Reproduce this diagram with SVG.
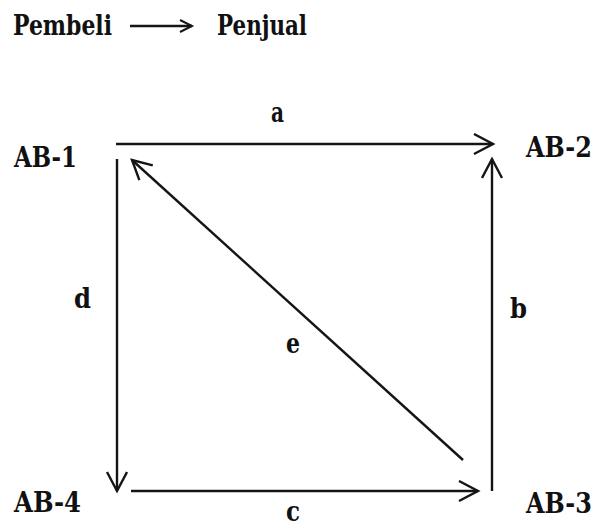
<svg xmlns="http://www.w3.org/2000/svg" width="595" height="527" viewBox="0 0 595 527">
<defs>
<style>
text{font-family:'DejaVu Serif','Liberation Serif',serif;font-size:27.5px;fill:#111;font-weight:bold}
.ln{stroke:#151515;stroke-width:2.4;fill:none}
</style>
<marker id="ah" markerUnits="userSpaceOnUse" markerWidth="26" markerHeight="26" refX="20" refY="11" orient="auto" viewBox="0 0 26 26">
<path d="M1,1 L20,11 L1,21" fill="none" stroke="#151515" stroke-width="2.4"/>
</marker>
<marker id="ahs" markerUnits="userSpaceOnUse" markerWidth="16" markerHeight="16" refX="13" refY="7" orient="auto" viewBox="0 0 16 16">
<path d="M1,1 L13,7 L1,13" fill="none" stroke="#151515" stroke-width="2"/>
</marker>
</defs>
<rect width="595" height="527" fill="#fff"/>
<g id="legend">
<text x="13" y="35" textLength="99" lengthAdjust="spacingAndGlyphs">Pembeli</text>
<line x1="130" y1="26" x2="192" y2="26" class="ln" stroke-width="2" marker-end="url(#ahs)"/>
<text x="217" y="35" textLength="90" lengthAdjust="spacingAndGlyphs">Penjual</text>
</g>
<g id="AB-1"><text x="14" y="167" textLength="63" lengthAdjust="spacingAndGlyphs">AB-1</text></g>
<g id="AB-2"><text transform="translate(526,157) scale(0.87,1)">AB-2</text></g>
<g id="AB-3"><text transform="translate(526,513) scale(0.87,1)">AB-3</text></g>
<g id="AB-4"><text x="14" y="512" textLength="67" lengthAdjust="spacingAndGlyphs">AB-4</text></g>
<g id="connectors">
<line x1="116" y1="144" x2="493" y2="144" class="ln" marker-end="url(#ah)"/>
<line x1="492" y1="491" x2="492" y2="159" class="ln" marker-end="url(#ah)"/>
<line x1="131" y1="491" x2="478" y2="491" class="ln" marker-end="url(#ah)"/>
<line x1="117" y1="159" x2="117" y2="491" class="ln" marker-end="url(#ah)"/>
<line x1="463" y1="460" x2="132" y2="160" class="ln" stroke-width="3" marker-end="url(#ah)"/>
<text x="271" y="122" textLength="13" lengthAdjust="spacingAndGlyphs">a</text>
<text x="510" y="318" textLength="17" lengthAdjust="spacingAndGlyphs">b</text>
<text x="286" y="521" textLength="14" lengthAdjust="spacingAndGlyphs">c</text>
<text x="74" y="308" textLength="17" lengthAdjust="spacingAndGlyphs">d</text>
<text x="286" y="353" textLength="14" lengthAdjust="spacingAndGlyphs">e</text>
</g>
</svg>
